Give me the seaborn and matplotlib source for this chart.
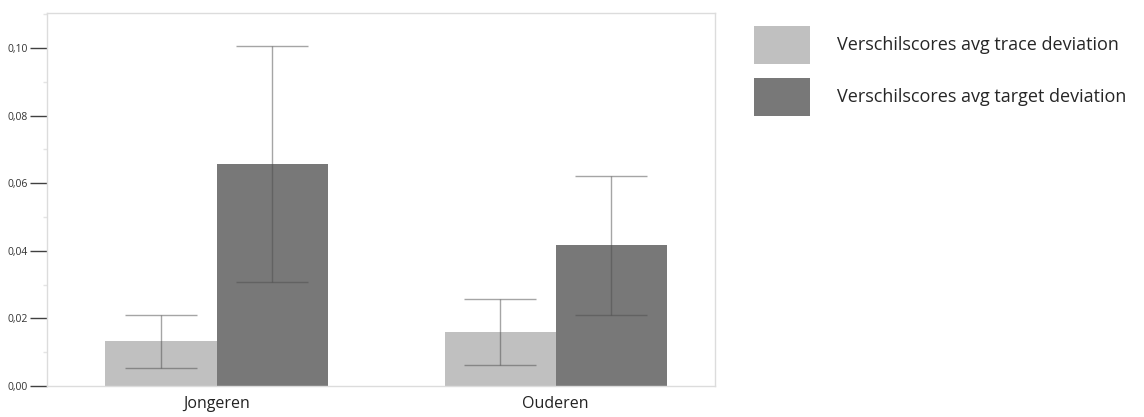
import matplotlib
matplotlib.use("Agg")
import matplotlib.pyplot as plt
import matplotlib.ticker as mticker
import seaborn as sns
import pandas as pd
import numpy as np

groups = ["Jongeren", "Ouderen"]
series = ["Verschilscores avg trace deviation", "Verschilscores avg target deviation"]
trace_mean = [0.0133, 0.0160]
trace_low = [0.0053, 0.0062]
trace_high = [0.0210, 0.0257]
target_mean = [0.0657, 0.0417]
target_low = [0.0308, 0.0210]
target_high = [0.1006, 0.0621]
yticks = [0.00, 0.02, 0.04, 0.06, 0.08, 0.10]

df = pd.DataFrame({
    "groep": groups * 2,
    "reeks": [series[0]] * 2 + [series[1]] * 2,
    "waarde": trace_mean + target_mean,
})
lows = [trace_low, target_low]
highs = [trace_high, target_high]

sns.set_style("white")
plt.rcParams["font.family"] = ["Open Sans", "DejaVu Sans"]

fig = plt.figure(figsize=(11.44, 4.17), dpi=100)
ax = fig.add_axes([47 / 1144, 1 - 386 / 417, (715 - 47) / 1144, (386 - 13) / 417])

palette = {series[0]: "#c0c0c0", series[1]: "#787878"}
sns.barplot(data=df, x="groep", y="waarde", hue="reeks", order=groups,
            hue_order=series, palette=palette, width=0.655, errorbar=None,
            saturation=1, linewidth=0, ax=ax)

# error bars centred on each bar
bar_containers = list(ax.containers)
for i, cont in enumerate(bar_containers):
    for j, bar in enumerate(cont.patches):
        xc = bar.get_x() + bar.get_width() / 2
        m = bar.get_height()
        ax.errorbar(xc, m, yerr=[[m - lows[i][j]], [highs[i][j] - m]],
                    fmt="none", ecolor=(0.3, 0.3, 0.3, 0.5), elinewidth=1,
                    capsize=26, capthick=1, zorder=5)

ax.set_xlim(-0.5, 1.47)
ax.set_ylim(0, 0.1104)
ax.set_yticks(yticks)
ax.yaxis.set_major_formatter(mticker.FuncFormatter(lambda v, p: f"{v:.2f}".replace(".", ",")))
ax.yaxis.set_minor_locator(mticker.MultipleLocator(0.01))
ax.tick_params(axis="y", which="major", left=True, length=12, width=1, color="#404040",
               labelsize=7.5, labelcolor="#333333", pad=2)
ax.tick_params(axis="y", which="minor", left=True, length=3, width=1, color="#e4e4e4")
ax.tick_params(axis="x", bottom=False, labelsize=11.5, labelcolor="#222222", pad=4)
ax.set_xlabel("")
ax.set_ylabel("")
for s in ax.spines.values():
    s.set_color("#dcdcdc")
    s.set_linewidth(1)

leg = ax.get_legend()
handles = leg.legend_handles
labels = [t.get_text() for t in leg.get_texts()]
leg.remove()
fig.legend(handles, labels, loc="upper left", bbox_to_anchor=(754 / 1144, 1 - 26 / 417),
           frameon=False, fontsize=13, handlelength=3.1, handleheight=2.86,
           labelspacing=0.75, handletextpad=1.5, borderaxespad=0, borderpad=0)

fig.savefig("out.png", dpi=100)
